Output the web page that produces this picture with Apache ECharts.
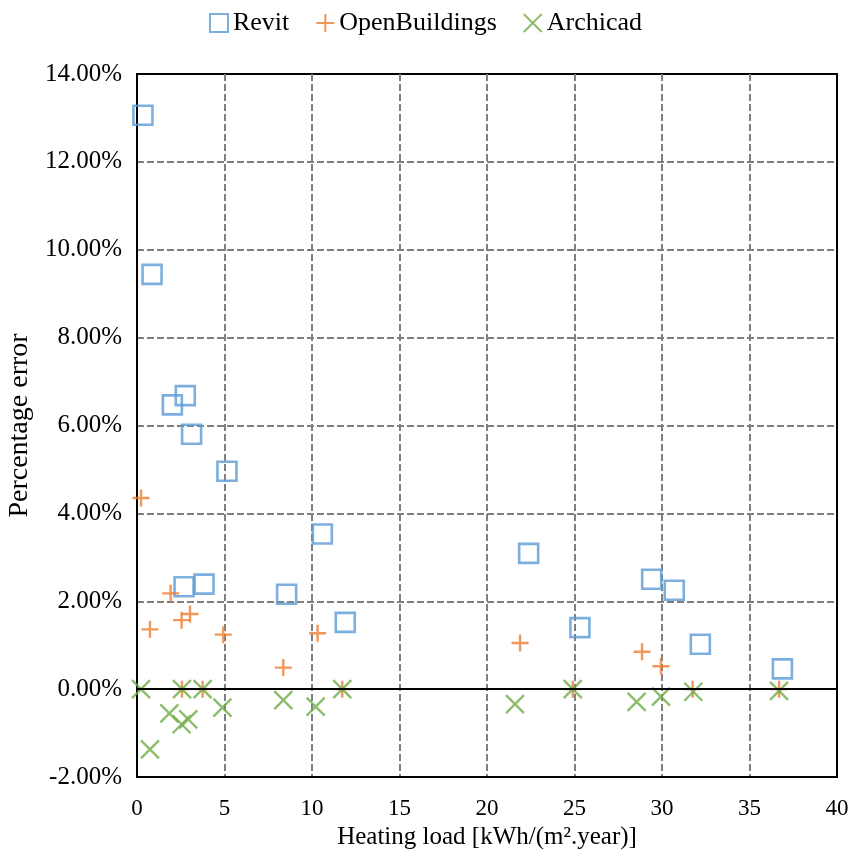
<!DOCTYPE html>
<html>
<head>
<meta charset="utf-8">
<script src="https://cdn.jsdelivr.net/npm/echarts@6/dist/echarts.min.js"></script>
<style>
  html, body { margin: 0; padding: 0; background: #fff; }
  #chart { width: 851px; height: 857px; }
</style>
</head>
<body>
<div id="chart"></div>
<script>
// heating load [kWh/(m2.year)] and percentage error (%)
const revitX = [0.34, 0.86, 2.02, 2.76, 3.12, 5.14, 10.59, 2.69, 3.83, 8.55, 11.9, 22.38, 29.41, 30.7, 25.31, 32.19, 36.88];
const revitY = [13.06, 9.44, 6.47, 6.68, 5.80, 4.96, 3.53, 2.33, 2.39, 2.16, 1.52, 3.09, 2.50, 2.25, 1.40, 1.02, 0.46];

const openX = [0.23, 0.74, 1.92, 2.55, 2.57, 3.03, 3.75, 4.93, 8.36, 10.32, 11.73, 21.89, 24.9, 28.86, 29.94, 31.75, 36.69];
const openY = [4.35, 1.36, 2.18, 1.57, 0, 1.71, 0, 1.24, 0.49, 1.27, 0, 1.05, 0, 0.85, 0.52, 0, 0];

const archiX = [0.23, 0.74, 1.85, 2.55, 2.57, 2.93, 3.75, 4.88, 8.36, 10.21, 11.73, 21.6, 24.9, 28.55, 29.94, 31.79, 36.69];
const archiY = [0, -1.37, -0.55, -0.80, 0, -0.69, 0, -0.42, -0.25, -0.40, 0, -0.34, 0, -0.29, -0.17, -0.06, -0.04];

const seriesNames = ['Revit', 'OpenBuildings', 'Archicad'];

const pairs = (xs, ys) => xs.map((x, i) => [x, ys[i]]);

const serif = "'Liberation Serif', 'Times New Roman', serif";

let myChart = echarts.init(document.getElementById('chart'));

myChart.setOption({
  animation: false,
  textStyle: { fontFamily: serif, color: '#000' },
  legend: {
    top: 5,
    left: 'center',
    itemWidth: 18,
    itemHeight: 18,
    itemGap: 26,
    textStyle: { fontFamily: serif, fontSize: 26, color: '#000' },
    data: seriesNames
  },
  grid: {
    left: 137, right: 14, top: 74, bottom: 80,
    outerBoundsMode: 'none',
    show: true, borderColor: '#000', borderWidth: 2
  },
  xAxis: {
    type: 'value',
    min: 0, max: 40, interval: 5,
    name: 'Heating load [kWh/(m².year)]',
    nameLocation: 'middle',
    nameGap: 46,
    nameTextStyle: { fontFamily: serif, fontSize: 25, color: '#000' },
    axisLine: { onZero: false, lineStyle: { color: '#000', width: 2 } },
    axisTick: { show: false },
    axisLabel: { fontFamily: serif, fontSize: 23, color: '#000', margin: 20 },
    splitLine: {
      show: true, showMinLine: false, showMaxLine: false,
      lineStyle: { color: '#7f7f7f', width: 2, type: [7, 3] }
    }
  },
  yAxis: {
    type: 'value',
    min: -2, max: 14, interval: 2,
    name: 'Percentage error',
    nameLocation: 'middle',
    nameGap: 86,
    nameTextStyle: { fontFamily: serif, fontSize: 28, color: '#000' },
    axisLine: { show: true, lineStyle: { color: '#000', width: 2 } },
    axisTick: { show: false },
    axisLabel: {
      fontFamily: serif, fontSize: 25, color: '#000', margin: 15,
      formatter: v => v.toFixed(2) + '%'
    },
    splitLine: {
      show: true, showMinLine: false, showMaxLine: false,
      lineStyle: { color: '#7f7f7f', width: 2, type: [7, 3] }
    }
  },
  series: [
    {
      name: 'Revit',
      type: 'scatter',
      symbol: 'rect',
      symbolSize: 19,
      itemStyle: { color: 'rgba(255,255,255,0)', borderColor: '#5B9BD5', borderWidth: 2.6 },
      data: pairs(revitX, revitY),
      markLine: {
        silent: true,
        symbol: 'none',
        label: { show: false },
        lineStyle: { color: '#000', width: 2, type: 'solid' },
        data: [{ yAxis: 0 }]
      }
    },
    {
      name: 'OpenBuildings',
      type: 'scatter',
      symbol: 'path://M0,5L10,5M5,0L5,10',
      symbolSize: 17,
      itemStyle: { color: 'rgba(255,255,255,0)', borderColor: '#ED7D31', borderWidth: 2.4 },
      data: pairs(openX, openY)
    },
    {
      name: 'Archicad',
      type: 'scatter',
      symbol: 'path://M0,0L10,10M10,0L0,10',
      symbolSize: 18,
      itemStyle: { color: 'rgba(255,255,255,0)', borderColor: '#70AD47', borderWidth: 2.4 },
      data: pairs(archiX, archiY)
    }
  ]
});
</script>
</body>
</html>
